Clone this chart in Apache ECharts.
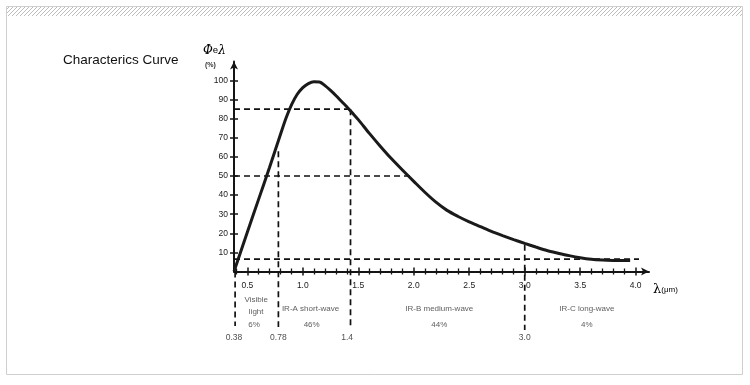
<!DOCTYPE html>
<html><head><meta charset="utf-8">
<script src="https://cdn.jsdelivr.net/npm/echarts@6/dist/echarts.min.js"></script>
<style>html,body{margin:0;padding:0;background:#fff}#c{width:750px;height:385px}</style>
</head><body><div id="c"></div>
<script>
// ---- data ----
const curveLambda = [0.38, 0.5, 0.6, 0.7, 0.8, 0.85, 0.9, 0.95, 1.0, 1.05, 1.1, 1.15, 1.2, 1.25, 1.3, 1.35, 1.4, 1.45, 1.5, 1.6, 1.7, 1.8, 1.9, 2.0, 2.1, 2.2, 2.3, 2.4, 2.5, 2.6, 2.7, 2.8, 2.9, 3.0, 3.1, 3.2, 3.3, 3.4, 3.5, 3.6, 3.7, 3.8, 3.9, 3.95];
const curvePhi    = [0, 20.5, 37.5, 54.5, 72, 80.5, 87.5, 92.8, 96.3, 98.4, 99.3, 99.2, 97.3, 94.8, 92, 89, 86, 82.8, 79.5, 72.3, 65.5, 59, 53, 47.2, 41.5, 36.3, 32, 28.8, 26, 23.5, 21, 18.8, 16.7, 14.7, 12.8, 11, 9.6, 8.3, 7.2, 6.4, 6.0, 5.8, 5.7, 5.7];
const yTickValues = [10, 20, 30, 40, 50, 60, 70, 80, 90, 100];
const xMajorValues = [0.5, 1.0, 1.5, 2.0, 2.5, 3.0, 3.5, 4.0];
const xMinorValues = [0.4, 0.6, 0.7, 0.8, 0.9, 1.1, 1.2, 1.3, 1.4, 1.6, 1.7, 1.8, 1.9, 2.1, 2.2, 2.3, 2.4, 2.6, 2.7, 2.8, 2.9, 3.1, 3.2, 3.3, 3.4, 3.6, 3.7, 3.8, 3.9];
// guide (dashed) segments: [[x1,y1],[x2,y2]]
const guideSegments = [
  [[0.38, 85], [1.43, 85]],
  [[0.38, 50], [1.97, 50]],
  [[0.38, 6.5], [4.03, 6.5]],
  [[0.39, 0], [0.39, -28.5]],
  [[0.78, 63], [0.78, -29]],
  [[1.43, 85], [1.43, -29]],
  [[3.0, 14], [3.0, -30.6]]
];
const boundaryValues = [0.38, 0.78, 1.4, 3.0];
const boundaryLabels = ['0.38', '0.78', '1.4', '3.0'];
const boundaryLabelY = -34.8;
const bandNames = ['Visible\nlight', 'IR-A short-wave', 'IR-B medium-wave', 'IR-C long-wave'];
const bandNameX = [0.58, 1.07, 2.23, 3.56];
const bandNameY = [-17.9, -19.4, -19.4, -19.4];
const bandShares = ['6%', '46%', '44%', '4%'];
const bandShareX = [0.56, 1.08, 2.23, 3.56];
const bandShareY = -27.7;

// ---- chart ----
const chart = echarts.init(document.getElementById('c'), null, {renderer: 'canvas'});

// hatch pattern for the top strip
const pc = document.createElement('canvas');
pc.width = 4; pc.height = 4;
const pctx = pc.getContext('2d');
pctx.strokeStyle = '#bdbdbd'; pctx.lineWidth = 1;
pctx.beginPath(); pctx.moveTo(0, 4); pctx.lineTo(4, 0); pctx.stroke();

const FONT = '"Liberation Sans", Arial, sans-serif';
const AX = '#141414';
const xBase = {type: 'value', min: 0.38, max: 4.12, position: 'bottom', splitLine: {show: false}};
const yBase = {type: 'value', min: 0, max: 110, interval: 10, position: 'left', splitLine: {show: false}};

const guideSeries = guideSegments.map((seg, i) => ({
  type: 'line', name: 'guide' + i, data: seg, symbol: 'none', clip: false, silent: true,
  lineStyle: {color: '#111', width: 1.7, type: [6, 4]}, z: 4
}));

const option = {
  animation: false,
  backgroundColor: '#fff',
  grid: {left: 234, right: 101, top: 61.4, bottom: 113.5, containLabel: false},
  xAxis: [
    Object.assign({}, xBase, {
      axisLine: {show: true, lineStyle: {color: AX, width: 2}, symbol: ['none', 'arrow'], symbolSize: [6, 8]},
      axisTick: {show: true, inside: true, length: 4, customValues: xMajorValues, lineStyle: {color: AX, width: 1.5}},
      axisLabel: {show: true, customValues: xMajorValues, formatter: v => v.toFixed(1), margin: 10,
        fontSize: 8.5, fontFamily: FONT, color: '#1a1a1a'}
    }),
    Object.assign({}, xBase, {
      axisLine: {show: false}, axisLabel: {show: false},
      axisTick: {show: true, inside: false, length: 4, customValues: xMajorValues, lineStyle: {color: AX, width: 1.5}}
    }),
    Object.assign({}, xBase, {
      axisLine: {show: false}, axisLabel: {show: false},
      axisTick: {show: true, inside: true, length: 3, customValues: xMinorValues, lineStyle: {color: AX, width: 1.3}}
    }),
    Object.assign({}, xBase, {
      axisLine: {show: false}, axisLabel: {show: false},
      axisTick: {show: true, inside: false, length: 3, customValues: xMinorValues, lineStyle: {color: AX, width: 1.3}}
    })
  ],
  yAxis: [
    Object.assign({}, yBase, {
      axisLine: {show: true, lineStyle: {color: AX, width: 2}, symbol: ['none', 'arrow'], symbolSize: [6, 8]},
      axisTick: {show: true, inside: false, length: 4, customValues: yTickValues, lineStyle: {color: AX, width: 1.5}},
      axisLabel: {show: true, customValues: yTickValues, margin: 6, fontSize: 8.5, fontFamily: FONT, color: '#1a1a1a'}
    }),
    Object.assign({}, yBase, {
      axisLine: {show: false}, axisLabel: {show: false},
      axisTick: {show: true, inside: true, length: 4, customValues: yTickValues, lineStyle: {color: AX, width: 1.5}}
    })
  ],
  series: [
    {
      type: 'line', name: 'curve', smooth: 0.3, symbol: 'none', clip: false, z: 5,
      data: curveLambda.map((x, i) => [x, curvePhi[i]]),
      lineStyle: {color: '#1a1a1a', width: 3}
    },
    ...guideSeries,
    {
      type: 'scatter', name: 'boundaryLabels', symbolSize: 0, clip: false, silent: true,
      data: boundaryValues.map((x, i) => ({value: [x, boundaryLabelY], name: boundaryLabels[i]})),
      label: {show: true, position: 'inside', formatter: p => p.name, fontSize: 8.5, fontFamily: FONT, color: '#222'}
    },
    {
      type: 'scatter', name: 'bandNames', symbolSize: 0, clip: false, silent: true,
      data: bandNames.map((n, i) => ({value: [bandNameX[i], bandNameY[i]], name: n})),
      label: {show: true, position: 'inside', formatter: p => p.name, fontSize: 8, lineHeight: 12, fontFamily: FONT, color: '#333'}
    },
    {
      type: 'scatter', name: 'bandShares', symbolSize: 0, clip: false, silent: true,
      data: bandShares.map((n, i) => ({value: [bandShareX[i], bandShareY], name: n})),
      label: {show: true, position: 'inside', formatter: p => p.name, fontSize: 8, fontFamily: FONT, color: '#333'}
    }
  ],
  graphic: [
    {type: 'rect', shape: {x: 6.5, y: 6.5, width: 736, height: 368}, style: {fill: 'none', stroke: '#cfcfcf', lineWidth: 1}, z: -1},
    {type: 'rect', shape: {x: 7, y: 7, width: 735, height: 9}, style: {fill: {image: pc, repeat: 'repeat'}}, z: -1},
    {type: 'text', left: 63, top: 53, style: {text: 'Characterics Curve', font: '13.5px ' + FONT, fill: '#111'}},
    {type: 'text', left: 203, top: 45, style: {
      text: '{a|Φ}{b|e}{a|λ}',
      rich: {a: {fontSize: 12, fontStyle: 'italic', fontFamily: '"DejaVu Serif", serif', color: '#222'},
             b: {fontSize: 9, fontFamily: '"DejaVu Serif", serif', color: '#222'}}
    }},
    {type: 'text', left: 205, top: 62, style: {text: '(%)', font: 'bold 7px ' + FONT, fill: '#333'}},
    {type: 'text', left: 653, top: 283, style: {
      text: '{a|λ}{b|(μm)}',
      rich: {a: {fontSize: 13, fontFamily: '"DejaVu Serif", serif', color: '#222'},
             b: {fontSize: 8, fontFamily: FONT, color: '#333'}}
    }}
  ]
};
chart.setOption(option);
</script>
</body></html>
